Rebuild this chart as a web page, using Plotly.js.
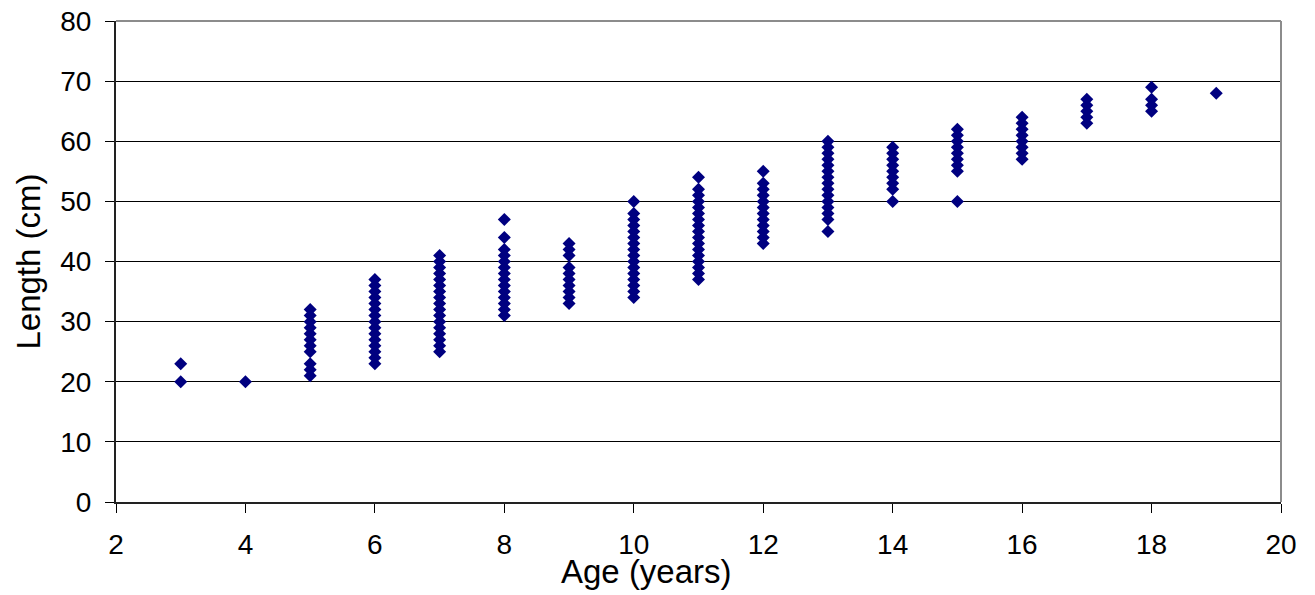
<!DOCTYPE html>
<html>
<head>
<meta charset="utf-8">
<script src="https://cdn.plot.ly/plotly-3.0.1.min.js"></script>
<style>html,body{margin:0;padding:0;background:#fff;}#chart{width:1315px;height:595px;}</style>
</head>
<body>
<div id="chart"></div>
<script>
// Lengths (cm) observed at each age (years)
const ages = [3, 4, 5, 6, 7, 8, 9, 10, 11, 12, 13, 14, 15, 16, 17, 18, 19];
const len3  = [20, 23];
const len4  = [20];
const len5  = [21, 22, 23, 25, 26, 27, 28, 29, 30, 31, 32];
const len6  = [23, 24, 25, 26, 27, 28, 29, 30, 31, 32, 33, 34, 35, 36, 37];
const len7  = [25, 26, 27, 28, 29, 30, 31, 32, 33, 34, 35, 36, 37, 38, 39, 40, 41];
const len8  = [31, 32, 33, 34, 35, 36, 37, 38, 39, 40, 41, 42, 44, 47];
const len9  = [33, 34, 35, 36, 37, 38, 39, 41, 42, 43];
const len10 = [34, 35, 36, 37, 38, 39, 40, 41, 42, 43, 44, 45, 46, 47, 48, 50];
const len11 = [37, 38, 39, 40, 41, 42, 43, 44, 45, 46, 47, 48, 49, 50, 51, 52, 54];
const len12 = [43, 44, 45, 46, 47, 48, 49, 50, 51, 52, 53, 55];
const len13 = [45, 47, 48, 49, 50, 51, 52, 53, 54, 55, 56, 57, 58, 59, 60];
const len14 = [50, 52, 53, 54, 55, 56, 57, 58, 59];
const len15 = [50, 55, 56, 57, 58, 59, 60, 61, 62];
const len16 = [57, 58, 59, 60, 61, 62, 63, 64];
const len17 = [63, 64, 65, 66, 67];
const len18 = [65, 66, 67, 69];
const len19 = [68];

const xTicks = [2, 4, 6, 8, 10, 12, 14, 16, 18, 20];
const yTicks = [0, 10, 20, 30, 40, 50, 60, 70, 80];
const xTitle = 'Age (years)';
const yTitle = 'Length (cm)';

const lengthsByAge = [len3, len4, len5, len6, len7, len8, len9, len10, len11,
                      len12, len13, len14, len15, len16, len17, len18, len19];
const xs = [], ys = [];
ages.forEach((a, i) => lengthsByAge[i].forEach(v => { xs.push(a); ys.push(v); }));

const font = {family: 'Liberation Sans, Arial, sans-serif', color: '#000'};

const trace = {
  x: xs, y: ys, type: 'scatter', mode: 'markers',
  marker: {symbol: 'diamond', size: 10, color: '#000080', line: {width: 0}},
  hoverinfo: 'x+y', showlegend: false
};

const layout = {
  width: 1315, height: 595,
  margin: {l: 116, r: 34, t: 21, b: 93, pad: 0},
  paper_bgcolor: '#fff', plot_bgcolor: '#fff',
  font: Object.assign({size: 28}, font),
  showlegend: false,
  xaxis: {
    range: [2, 20], tickvals: xTicks, ticktext: xTicks.map(String),
    showgrid: false, zeroline: false,
    showline: true, linecolor: '#222', linewidth: 2,
    ticks: 'outside', ticklen: 9, tickwidth: 1, tickcolor: '#000',
    ticklabelstandoff: 7,
    tickfont: Object.assign({size: 28}, font),
    automargin: false
  },
  yaxis: {
    range: [0, 80], tickvals: yTicks, ticktext: yTicks.map(String),
    showgrid: true, gridcolor: '#000', gridwidth: 1,
    zeroline: false,
    showline: true, linecolor: '#222', linewidth: 2,
    ticks: 'outside', ticklen: 9, tickwidth: 1, tickcolor: '#000',
    ticklabelstandoff: 8,
    tickfont: Object.assign({size: 28}, font),
    title: {text: yTitle, font: Object.assign({size: 33}, font), standoff: 10},
    automargin: false
  },
  annotations: [
    {text: xTitle, xref: 'paper', yref: 'paper', x: 0.455, y: -0.1455,
     xanchor: 'center', yanchor: 'middle', showarrow: false,
     font: Object.assign({size: 33}, font)}
  ],
  shapes: [
    {type: 'line', xref: 'paper', yref: 'paper', x0: 0, x1: 1, y0: 1, y1: 1,
     line: {color: '#8c8c8c', width: 2}},
    {type: 'line', xref: 'paper', yref: 'paper', x0: 1, x1: 1, y0: 0, y1: 1,
     line: {color: '#8c8c8c', width: 2}}
  ]
};

Plotly.newPlot('chart', [trace], layout, {displayModeBar: false, staticPlot: true});
</script>
</body>
</html>
